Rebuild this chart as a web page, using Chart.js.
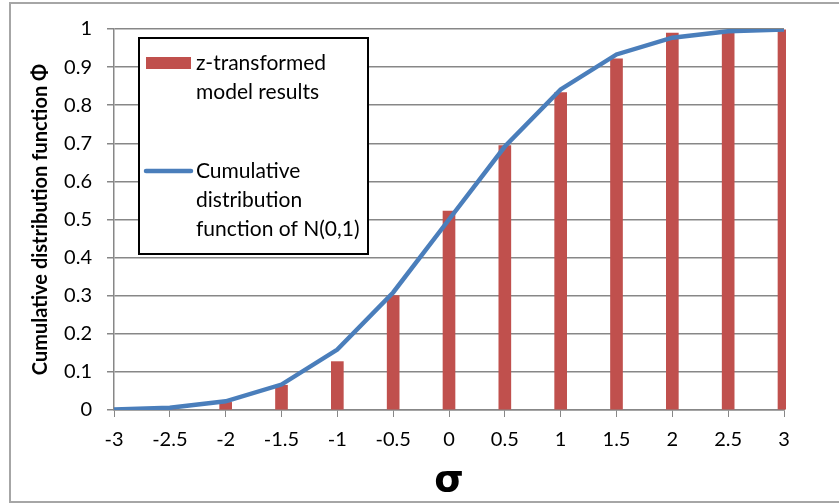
<!DOCTYPE html>
<html>
<head>
<meta charset="utf-8">
<script src="https://cdn.jsdelivr.net/npm/chart.js@4/dist/chart.umd.min.js"></script>
<style>
  html, body { margin: 0; padding: 0; background: #fff; }
  #wrap { width: 839px; height: 504px; position: relative; }
</style>
</head>
<body>
<div id="wrap"><canvas id="c" width="839" height="504"></canvas></div>
<script>
// sigma positions on the x axis
const sigma = [-3, -2.5, -2, -1.5, -1, -0.5, 0, 0.5, 1, 1.5, 2, 2.5, 3];
// share of z-transformed model results at or below each sigma
const modelResults = [0, 0, 0.02, 0.065, 0.127, 0.30, 0.522, 0.694, 0.833, 0.922, 0.989, 0.995, 0.998];
// standard normal CDF at the same sigma positions
const normalCdf = [0.0013, 0.0062, 0.0228, 0.0668, 0.1587, 0.3085, 0.5, 0.6915, 0.8413, 0.9332, 0.9772, 0.9938, 0.9987];
// legend lines for each series
const barLegend = ['z-transformed', 'model results'];
const lineLegend = ['Cumulative', 'distribution', 'function of N(0,1)'];

const BAR = '#c0504d';
const LINE = '#4a7ebb';
const GRID = '#878787';
const FONT = 'Lato, "Open Sans", sans-serif';

const frame = {
  id: 'frame',
  beforeDraw(chart) {
    const ctx = chart.ctx;
    ctx.save();
    ctx.strokeStyle = '#a6a6a6';
    ctx.lineWidth = 2;
    ctx.strokeRect(10, 3, 840, 499);
    ctx.restore();
  }
};

const legendBox = {
  id: 'legendBox',
  afterDatasetsDraw(chart) {
    const ctx = chart.ctx;
    ctx.save();
    ctx.fillStyle = '#fff';
    ctx.fillRect(139, 38, 229, 216);
    ctx.strokeStyle = '#000';
    ctx.lineWidth = 2;
    ctx.strokeRect(139, 38, 229, 216);

    ctx.fillStyle = BAR;
    ctx.fillRect(146, 57, 45, 12);
    ctx.strokeStyle = LINE;
    ctx.lineWidth = 4.5;
    ctx.lineCap = 'round';
    ctx.beginPath();
    ctx.moveTo(146, 171);
    ctx.lineTo(191, 171);
    ctx.stroke();

    ctx.fillStyle = '#000';
    ctx.font = '21px ' + FONT;
    ctx.textBaseline = 'middle';
    ctx.textAlign = 'left';
    barLegend.forEach((t, i) => ctx.fillText(t, 196, 63 + i * 29));
    lineLegend.forEach((t, i) => ctx.fillText(t, 196, 171 + i * 29));
    ctx.restore();
  }
};

new Chart(document.getElementById('c'), {
  type: 'bar',
  data: {
    datasets: [
      {
        type: 'line',
        label: 'Cumulative distribution function of N(0,1)',
        data: sigma.map((s, i) => ({ x: s, y: normalCdf[i] })),
        borderColor: LINE,
        borderWidth: 4.5,
        pointRadius: 0,
        tension: 0,
        fill: false,
        order: 0
      },
      {
        type: 'bar',
        label: 'z-transformed model results',
        data: sigma.map((s, i) => ({ x: s, y: modelResults[i] })),
        backgroundColor: BAR,
        barThickness: 12,
        clip: { left: 0, top: 0, right: 2, bottom: 0 },
        order: 1
      }
    ]
  },
  options: {
    responsive: false,
    animation: false,
    devicePixelRatio: 1,
    layout: { padding: { left: 0, top: 29, right: 55, bottom: 0 } },
    plugins: { legend: { display: false }, tooltip: { enabled: false } },
    scales: {
      x: {
        type: 'linear',
        min: -3,
        max: 3,
        offset: false,
        afterFit(s) { s.height = 94; },
        grid: { offset: false, drawOnChartArea: false, drawTicks: true, tickLength: 7, color: GRID },
        border: { color: GRID, width: 1.5 },
        ticks: {
          stepSize: 0.5,
          padding: 11,
          color: '#000',
          font: { family: FONT, size: 20 },
          maxRotation: 0,
          callback: v => String(v)
        },
        title: {
          display: true,
          text: 'σ',
          color: '#000',
          font: { family: '"DejaVu Sans"', size: 38, weight: 'bold' },
          padding: { top: 0, bottom: 0 }
        }
      },
      y: {
        min: 0,
        max: 1,
        afterFit(s) { s.width = 114; },
        grid: { color: GRID, lineWidth: 1.5, drawTicks: true, tickLength: 7 },
        border: { color: GRID, width: 1.5 },
        ticks: {
          stepSize: 0.1,
          padding: 15,
          color: '#000',
          font: { family: FONT, size: 20 },
          callback: v => String(+v.toFixed(1))
        },
        title: {
          display: true,
          text: 'Cumulative distribution function Φ',
          color: '#000',
          font: { family: FONT, size: 20, weight: 'bold' },
          padding: { top: 29, bottom: 0 }
        }
      }
    }
  },
  plugins: [frame, legendBox]
});
</script>
</body>
</html>
